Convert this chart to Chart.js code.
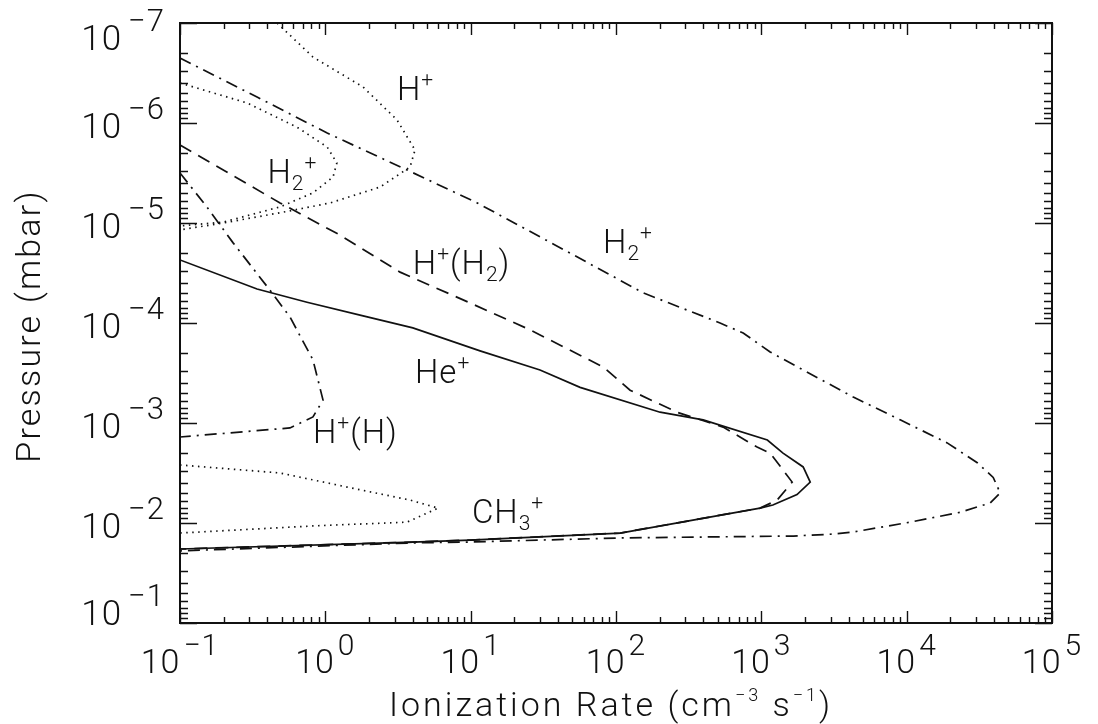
<!DOCTYPE html>
<html><head><meta charset="utf-8">
<script src="https://cdn.jsdelivr.net/npm/chart.js@4.4.1/dist/chart.umd.min.js"></script>
<style>html,body{margin:0;padding:0;background:#fff;}canvas{display:block;}</style>
</head><body>
<canvas id="c" width="1098" height="724"></canvas>
<script>
// ---------------- data ----------------
const xTickValues = [1e-1, 1e0, 1e1, 1e2, 1e3, 1e4, 1e5];
const xTickExponents = ['\u22121', '0', '1', '2', '3', '4', '5'];
const yTickValues = [1e-7, 1e-6, 1e-5, 1e-4, 1e-3, 1e-2, 1e-1];
const yTickExponents = ['\u22127', '\u22126', '\u22125', '\u22124', '\u22123', '\u22122', '\u22121'];

// H2+ (dash-dot, large)
const h2pRate = [0.1, 0.339, 1.03, 3.65, 11.1, 48.3, 154, 520, 750, 1150, 1940, 4290, 9020, 19000, 30600, 39400, 44000, 37600, 23400, 10600, 4290, 3120, 1660, 107, 9.9, 4.0, 0.1];
const h2pPressure = [2.24e-7, 5.5e-7, 1.26e-6, 2.95e-6, 6.3e-6, 2.0e-5, 5.0e-5, 1.0e-4, 1.26e-4, 1.95e-4, 2.95e-4, 5.5e-4, 9.3e-4, 1.58e-3, 2.5e-3, 3.5e-3, 5.0e-3, 6.3e-3, 7.8e-3, 9.8e-3, 1.23e-2, 1.29e-2, 1.35e-2, 1.41e-2, 1.55e-2, 1.58e-2, 1.9e-2];
// He+ (solid)
const hepRate = [0.1, 0.339, 0.748, 1.82, 4.0, 11.6, 30, 56.6, 201, 398, 1100, 1410, 1940, 2170, 1760, 1200, 980, 107, 9.9, 4.0, 0.1];
const hepPressure = [2.34e-5, 4.57e-5, 6.2e-5, 8.5e-5, 1.12e-4, 1.9e-4, 2.95e-4, 4.4e-4, 7.8e-4, 9.3e-4, 1.48e-3, 2.0e-3, 2.75e-3, 3.9e-3, 5.2e-3, 6.6e-3, 7.1e-3, 1.26e-2, 1.48e-2, 1.55e-2, 1.82e-2];
// H+(H2) (dashed)
const hph2Rate = [0.1, 0.488, 1.26, 3.27, 9.9, 25.6, 81.5, 125, 263, 546, 935, 1150, 1630, 1285, 980, 107, 9.9, 4.0, 0.1];
const hph2Pressure = [1.66e-6, 6.3e-6, 1.32e-5, 3.1e-5, 6.3e-5, 1.17e-4, 2.75e-4, 4.7e-4, 7.8e-4, 1.1e-3, 1.74e-3, 2.0e-3, 3.9e-3, 5.9e-3, 7.1e-3, 1.26e-2, 1.48e-2, 1.55e-2, 1.82e-2];
// H+ (dotted)
const hpRate = [0.466, 0.822, 1.82, 3.11, 4.14, 3.83, 2.38, 1.08, 0.488, 0.198, 0.1];
const hpPressure = [1.0e-7, 2.19e-7, 4.37e-7, 9.3e-7, 1.86e-6, 2.75e-6, 4.37e-6, 6.3e-6, 7.9e-6, 1.0e-5, 1.17e-5];
// H2+ (dotted, small)
const h2pSmallRate = [0.1, 0.289, 0.638, 1.03, 1.20, 1.13, 0.822, 0.488, 0.198, 0.1];
const h2pSmallPressure = [3.98e-7, 6.3e-7, 1.10e-6, 1.74e-6, 2.51e-6, 3.47e-6, 5.0e-6, 6.9e-6, 9.8e-6, 1.07e-5];
// H+(H) (dash-dot)
const hphRate = [0.1, 0.153, 0.232, 0.416, 0.571, 0.822, 0.964, 0.822, 0.571, 0.1];
const hphPressure = [3.16e-6, 6.9e-6, 1.58e-5, 4.7e-5, 8.7e-5, 2.34e-4, 5.9e-4, 8.7e-4, 1.12e-3, 1.38e-3];
// CH3+ (dotted)
const ch3pRate = [0.1, 0.488, 1.41, 3.83, 5.97, 3.65, 0.822, 0.1];
const ch3pPressure = [2.63e-3, 3.16e-3, 4.37e-3, 5.9e-3, 7.1e-3, 9.8e-3, 1.07e-2, 1.26e-2];

// curve labels (text segments, anchored in data coordinates: left/baseline)
const curveLabelSegments = [
  [['H','n'],['+','sup']],
  [['H','n'],['2','sub'],['+','sup']],
  [['H','n'],['+','sup'],['(H','n'],['2','sub'],[')','n']],
  [['H','n'],['2','sub'],['+','sup']],
  [['He','n'],['+','sup']],
  [['H','n'],['+','sup'],['(H)','n']],
  [['CH','n'],['3','sub'],['+','sup']]
];
const curveLabelRate = [3.11, 0.40, 4.0, 81.5, 4.14, 0.822, 10.2];
const curveLabelPressure = [5.9e-7, 4.0e-6, 3.24e-5, 2.0e-5, 4.0e-4, 1.58e-3, 1.0e-2];

const xTitleSegments = [['Ionization Rate (cm','n'],['\u22123','tsup'],[' s','n'],['\u22121','tsup'],[')','n']];
const yTitle = 'Pressure (mbar)';

// ---------------- helpers ----------------
const FAM = 'Roboto, "Liberation Sans", sans-serif';
const WEIGHT = '300';
const INK = '#111';

function pairs(xs, ys) { return xs.map((v, i) => ({x: v, y: ys[i]})); }

function drawRich(ctx, segs, x, y, align, cfg) {
  ctx.letterSpacing = (cfg.ls || 0) + 'px';
  const parts = segs.map(([t, k]) => {
    let size = cfg.n, dy = 0, gap = 0;
    if (k === 'sup') { size = cfg.sup; dy = -cfg.supRaise; }
    else if (k === 'sub') { size = cfg.sub; dy = cfg.subDrop; }
    else if (k === 'tsup') { size = cfg.tsup; dy = -cfg.tsupRaise; }
    else if (k === 'exp') { size = cfg.exp; dy = -cfg.expRaise; gap = cfg.expGap; }
    ctx.font = WEIGHT + ' ' + size + 'px ' + FAM;
    return {t, size, dy, gap, w: ctx.measureText(t).width};
  });
  const total = parts.reduce((s, p) => s + p.w + p.gap, 0);
  let cx = align === 'right' ? x - total : align === 'center' ? x - total / 2 : x;
  ctx.textBaseline = 'alphabetic';
  ctx.textAlign = 'left';
  for (const p of parts) {
    cx += p.gap;
    ctx.font = WEIGHT + ' ' + p.size + 'px ' + FAM;
    ctx.fillText(p.t, cx, y + p.dy);
    cx += p.w;
  }
  ctx.letterSpacing = '0px';
}

const frame = {
  id: 'frame',
  beforeDraw(chart) {
    const ctx = chart.ctx;
    ctx.save();
    ctx.fillStyle = '#fff';
    ctx.fillRect(0, 0, chart.width, chart.height);
    ctx.restore();
  },
  afterDraw(chart) {
    const ctx = chart.ctx;
    const a = chart.chartArea;
    const xs = chart.scales.x, ys = chart.scales.y;
    ctx.save();
    ctx.strokeStyle = INK;
    ctx.fillStyle = INK;
    // box
    ctx.lineWidth = 2;
    ctx.strokeRect(a.left, a.top, a.right - a.left, a.bottom - a.top);
    // ticks
    ctx.lineWidth = 1.4;
    ctx.beginPath();
    for (let d = -1; d <= 5; d++) {
      for (let m = 1; m <= 9; m++) {
        if (d === 5 && m > 1) break;
        const v = m * Math.pow(10, d);
        const px = Math.round(xs.getPixelForValue(v)) + 0.5;
        const len = m === 1 ? 12 : 6;
        ctx.moveTo(px, a.bottom); ctx.lineTo(px, a.bottom - len);
        ctx.moveTo(px, a.top); ctx.lineTo(px, a.top + len);
      }
    }
    for (let d = -7; d <= -1; d++) {
      for (let m = 1; m <= 9; m++) {
        if (d === -1 && m > 1) break;
        const v = m * Math.pow(10, d);
        const py = Math.round(ys.getPixelForValue(v)) + 0.5;
        const len = m === 1 ? 17 : 8;
        ctx.moveTo(a.left, py); ctx.lineTo(a.left + len, py);
        ctx.moveTo(a.right, py); ctx.lineTo(a.right - len, py);
      }
    }
    ctx.stroke();

    const tickCfg = {n: 34, exp: 30, expRaise: 18, expGap: 3, ls: 1};
    // x tick labels
    xTickValues.forEach((v, i) => {
      const px = xs.getPixelForValue(v);
      drawRich(ctx, [['10','n'], [xTickExponents[i],'exp']], px, a.bottom + 50, 'center', tickCfg);
    });
    // y tick labels
    const yCfg = {n: 35, exp: 31, expRaise: 19, expGap: 6, ls: 1};
    yTickValues.forEach((v, i) => {
      const py = ys.getPixelForValue(v);
      const base = Math.min(Math.max(py + 15, a.top + 27), a.bottom + 2);
      drawRich(ctx, [['10','n'], [yTickExponents[i],'exp']], a.left - 15, base, 'right', yCfg);
    });

    // axis titles
    drawRich(ctx, xTitleSegments, (a.left + a.right) / 2 - 5, a.bottom + 93, 'center',
      {n: 34, tsup: 18, tsupRaise: 15, ls: 3});
    ctx.save();
    ctx.translate(40, (a.top + a.bottom) / 2 + 3);
    ctx.rotate(-Math.PI / 2);
    drawRich(ctx, [[yTitle, 'n']], 0, 0, 'center', {n: 34, ls: 2.2});
    ctx.restore();

    // curve labels
    const lblCfg = {n: 33, sup: 21, supRaise: 14, sub: 21, subDrop: 7, ls: 1};
    curveLabelSegments.forEach((segs, i) => {
      const px = xs.getPixelForValue(curveLabelRate[i]);
      const py = ys.getPixelForValue(curveLabelPressure[i]);
      drawRich(ctx, segs, px, py, 'left', lblCfg);
    });
    ctx.restore();
  }
};

const DOT = [1.5, 4.5], DASH = [13, 8], DASHDOT = [12, 6, 2, 6];
function ds(label, xs, ys, dash) {
  return {
    label, data: pairs(xs, ys), showLine: true, borderColor: INK, borderWidth: 1.7,
    borderDash: dash, pointRadius: 0, tension: 0, fill: false
  };
}

new Chart(document.getElementById('c'), {
  type: 'scatter',
  data: {
    datasets: [
      ds('H2+', h2pRate, h2pPressure, DASHDOT),
      ds('He+', hepRate, hepPressure, []),
      ds('H+(H2)', hph2Rate, hph2Pressure, DASH),
      ds('H+', hpRate, hpPressure, DOT),
      ds('H2+ (small)', h2pSmallRate, h2pSmallPressure, DOT),
      ds('H+(H)', hphRate, hphPressure, DASHDOT),
      ds('CH3+', ch3pRate, ch3pPressure, DOT)
    ]
  },
  options: {
    responsive: false,
    animation: false,
    devicePixelRatio: 1,
    layout: {padding: {left: 180, right: 46, top: 23, bottom: 101}},
    plugins: {legend: {display: false}, tooltip: {enabled: false}},
    scales: {
      x: {type: 'logarithmic', min: 0.1, max: 1e5, display: false},
      y: {type: 'logarithmic', min: 1e-7, max: 1e-1, reverse: true, display: false}
    }
  },
  plugins: [frame]
});
</script>
</body></html>
